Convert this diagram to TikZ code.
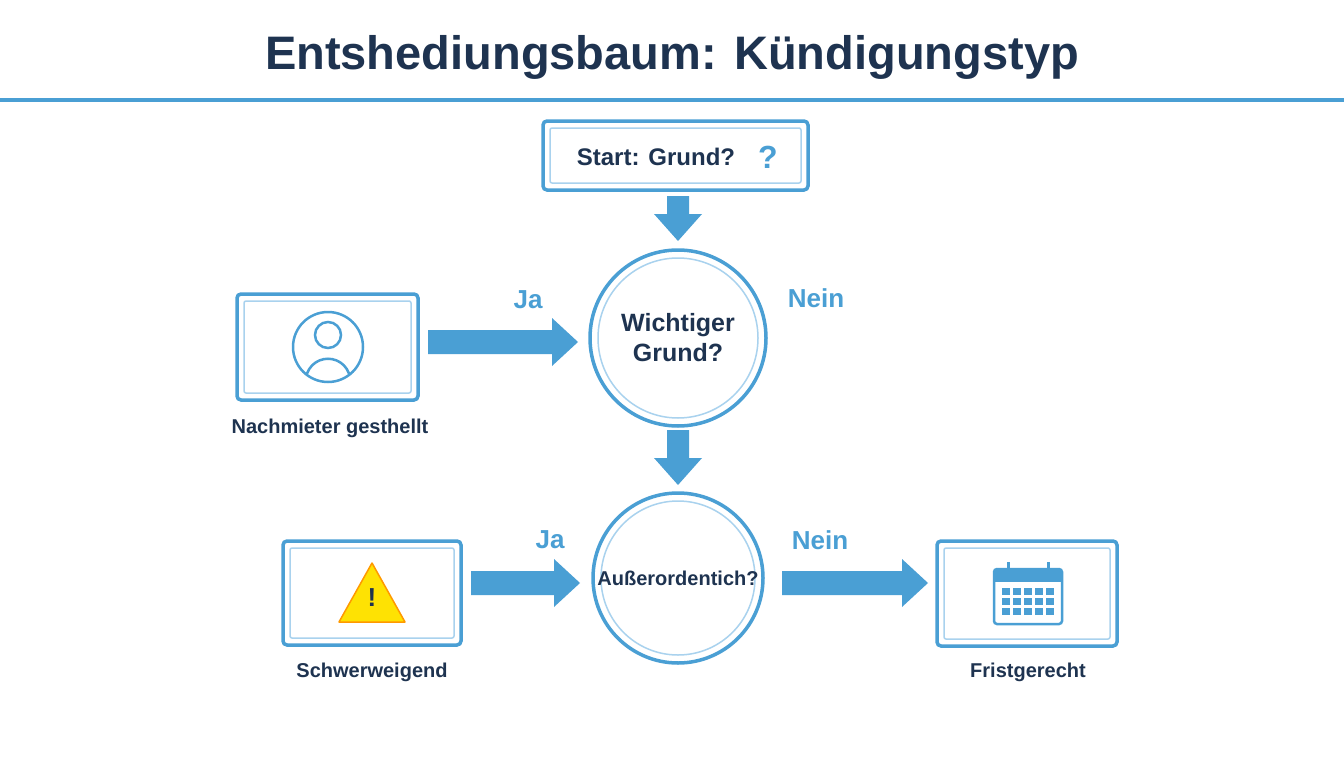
\documentclass[tikz,border=0pt]{standalone}
\usepackage{fontspec}
\setmainfont{Liberation Sans}
\usetikzlibrary{shapes.geometric}
\definecolor{navy}{HTML}{1E3350}
\definecolor{bl}{HTML}{4A9FD4}
\definecolor{lbl}{HTML}{A9D2EE}
\tikzset{
 bx/.style={draw=bl,line width=3.5pt,fill=white,rounded corners=4pt},
 circ/.style={circle,draw=bl,line width=3.5pt,fill=white,minimum size=#1},
 barrow/.style={fill=bl,draw=none},
 lab/.style={font=\bfseries\fontsize{20}{24}\selectfont,text=navy},
 yn/.style={font=\bfseries\fontsize{26}{30}\selectfont,text=bl}
}
\begin{document}
\begin{tikzpicture}[x=1pt,y=-1pt]
\useasboundingbox (0,0) rectangle (1344,768);
\fill[white] (0,0) rectangle (1344,768);
\node[font=\bfseries\fontsize{47}{54}\selectfont,text=navy] (title) at (672,57) {Entshediungsbaum: Kündigungstyp};
\draw[bl,line width=4pt] (0,100) -- (1344,100);
% start
\draw[bx] (543,121) rectangle (808,190);
\draw[lbl,line width=1.5pt,rounded corners=2pt] (550,128) rectangle (801,183);
\node[lab,font=\bfseries\fontsize{24}{28}\selectfont] (start) at (656,157) {Start: Grund?};
\node[font=\bfseries\fontsize{32}{36}\selectfont,text=bl] (q) at (768,157) {?};
\fill[barrow] (667,196) -- (689,196) -- (689,214) -- (702,214) -- (678,241) -- (654,214) -- (667,214) -- cycle;
% circle 1
\node[circ=176pt] (c1) at (678,338) {};
\draw[lbl,line width=1.5pt] (c1.center) circle (80);
\node[lab,font=\bfseries\fontsize{25}{30}\selectfont,align=center] at (c1) {Wichtiger\\Grund?};
% left box 1
\draw[bx] (237,294) rectangle (418,400);
\draw[lbl,line width=1.5pt,rounded corners=2pt] (244,301) rectangle (411,393);
\draw[bl,line width=2.5pt] (328,347) circle (35);
\draw[bl,line width=2.5pt] (328,335) circle (13);
\begin{scope}
\clip (328,347) circle (35);
\draw[bl,line width=2.5pt] (305,385) .. controls (305,350) and (351,350) .. (351,385);
\end{scope}
\node[lab] (n1) at (330,428) {Nachmieter gesthellt};
\fill[barrow] (428,330) -- (552,330) -- (552,318) -- (578,342) -- (552,366) -- (552,354) -- (428,354) -- cycle;
\node[yn] at (528,300) {Ja};
\node[yn] at (816,298) {Nein};
\fill[barrow] (667,430) -- (689,430) -- (689,458) -- (702,458) -- (678,485) -- (654,458) -- (667,458) -- cycle;
% circle 2
\node[circ=170pt] (c2) at (678,578) {};
\draw[lbl,line width=1.5pt] (c2.center) circle (77);
\node[lab,font=\bfseries\fontsize{20}{24}\selectfont] at (c2) {Außerordentich?};
% box 2
\draw[bx] (283,541) rectangle (461,645);
\draw[lbl,line width=1.5pt,rounded corners=2pt] (290,548) rectangle (454,638);
\draw[fill=yellow!85!orange,draw=orange!80!yellow,line width=1.5pt,line join=round] (372,563) -- (405,622) -- (339,622) -- cycle;
\node[font=\bfseries\fontsize{26}{28}\selectfont,text=navy] at (372,598) {!};
\node[lab] (n2) at (372,672) {Schwerweigend};
\fill[barrow] (471,571) -- (554,571) -- (554,559) -- (580,583) -- (554,607) -- (554,595) -- (471,595) -- cycle;
\node[yn] at (550,540) {Ja};
\node[yn] at (820,540) {Nein};
\fill[barrow] (782,571) -- (902,571) -- (902,559) -- (928,583) -- (902,607) -- (902,595) -- (782,595) -- cycle;
% box 3
\draw[bx] (937,541) rectangle (1117,646);
\draw[lbl,line width=1.5pt,rounded corners=2pt] (944,548) rectangle (1110,639);
\draw[bl,line width=2.5pt,rounded corners=3pt] (994,569) rectangle (1062,624);
\fill[bl] (994,569) rectangle (1062,582);
\draw[bl,line width=3pt] (1008,562) -- (1008,572) (1048,562) -- (1048,572);
\foreach \i in {0,...,4}{\foreach \j in {0,1,2}{\fill[bl] (1002+\i*11,588+\j*10) rectangle ++(8,7);}}
\node[lab] (n3) at (1028,672) {Fristgerecht};
\end{tikzpicture}
\end{document}
